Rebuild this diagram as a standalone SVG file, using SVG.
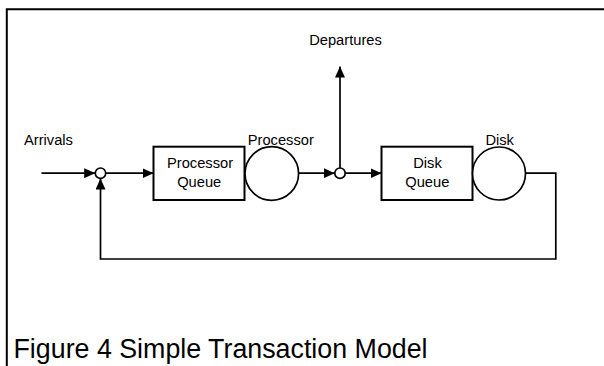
<svg xmlns="http://www.w3.org/2000/svg" width="604" height="366" viewBox="0 0 604 366">
  <style>
    .lbl { font-family: "Liberation Sans", Arial, sans-serif; font-size: 14.7px; fill: #000; }
    .cap { font-family: "Liberation Sans", Arial, sans-serif; font-size: 26.8px; fill: #000; }
    .box { fill: #fff; stroke: #000; stroke-width: 2; }
    .srv { fill: #fff; stroke: #000; stroke-width: 1.7; }
    .jn { fill: #fff; stroke: #000; stroke-width: 1.7; }
    .wire { fill: none; stroke: #000; stroke-width: 1.7; }
    .frame { fill: none; stroke: #000; stroke-width: 2; }
  </style>
  <defs>
    <marker id="arrow" markerUnits="userSpaceOnUse" markerWidth="11" markerHeight="10" refX="11" refY="5" orient="auto">
      <path d="M0,0 L11,5 L0,10 z" fill="#000"/>
    </marker>
  </defs>

  <rect width="604" height="366" fill="#fff"/>

  <!-- frame: top and left edges -->
  <path class="frame" d="M6.8,366 V9.2 H604"/>

  <!-- connectors -->
  <g id="connectors">
    <path class="wire" d="M41.5,173.2 H95.2" marker-end="url(#arrow)"/>
    <path class="wire" d="M105.8,173.2 H153.5" marker-end="url(#arrow)"/>
    <path class="wire" d="M298.5,173.2 H334.7" marker-end="url(#arrow)"/>
    <path class="wire" d="M345.3,173.2 H381.5" marker-end="url(#arrow)"/>
    <path class="wire" d="M340,167.9 V66.5" marker-end="url(#arrow)"/>
    <path class="wire" d="M525.5,173.2 H555.8 V259 H100.5 V178.5" marker-end="url(#arrow)"/>
  </g>

  <!-- arrival / departure junctions -->
  <g id="junction-in">
    <circle class="jn" cx="100.5" cy="173.2" r="5.2"/>
  </g>
  <g id="junction-out">
    <circle class="jn" cx="340" cy="173.2" r="5.2"/>
  </g>

  <g id="processor-queue">
    <rect class="box" x="153.5" y="146.7" width="91" height="53.3"/>
    <text class="lbl" x="200" y="168.2" text-anchor="middle">Processor</text>
    <text class="lbl" x="199.2" y="186.6" text-anchor="middle">Queue</text>
  </g>

  <g id="processor">
    <circle class="srv" cx="271.8" cy="173.5" r="26.8"/>
    <text class="lbl" x="247.7" y="145">Processor</text>
  </g>

  <g id="disk-queue">
    <rect class="box" x="381.5" y="146.7" width="91" height="53.3"/>
    <text class="lbl" x="427.5" y="168.2" text-anchor="middle">Disk</text>
    <text class="lbl" x="427.3" y="186.6" text-anchor="middle">Queue</text>
  </g>

  <g id="disk">
    <circle class="srv" cx="499" cy="173.5" r="26.5"/>
    <text class="lbl" x="485.4" y="145">Disk</text>
  </g>

  <g id="arrivals">
    <text class="lbl" x="24" y="145">Arrivals</text>
  </g>

  <g id="departures">
    <text class="lbl" x="345.5" y="45" text-anchor="middle">Departures</text>
  </g>

  <text class="cap" x="13.5" y="358">Figure 4 Simple Transaction Model</text>
</svg>
